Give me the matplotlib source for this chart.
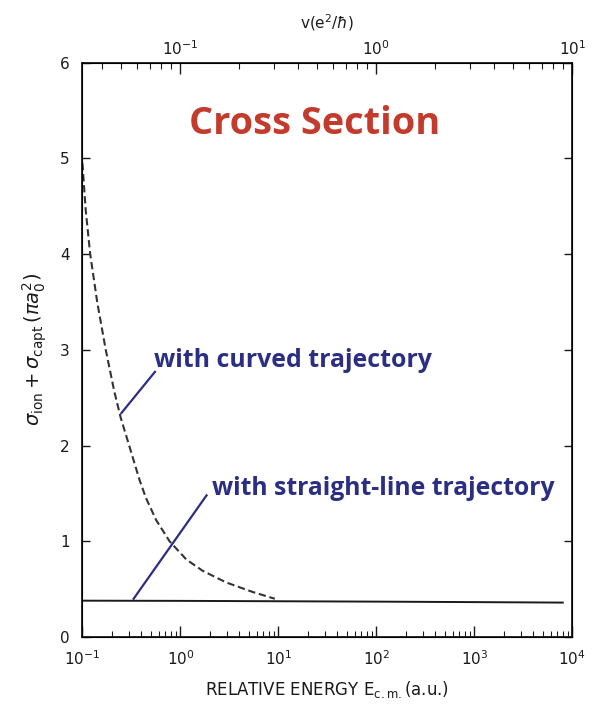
import numpy as np
import matplotlib
matplotlib.use("Agg")
import matplotlib.pyplot as plt
from matplotlib.ticker import LogLocator, NullFormatter, FixedLocator

# Cross section with curved (Coulomb) trajectories
energy_curved = [0.1, 0.108, 0.120, 0.142, 0.173, 0.211, 0.246, 0.29, 0.383, 0.444,
                 0.567, 0.776, 1.15, 1.70, 2.94, 5.5, 9.2]
sigma_curved = [4.95, 4.46, 4.0, 3.49, 3.0, 2.57, 2.29, 2.05, 1.64, 1.455,
                1.22, 1.0, 0.81, 0.69, 0.57, 0.47, 0.40]

# Cross section with straight-line trajectories
energy_straight = [0.1, 1.0, 10.0, 100.0, 1000.0, 8000.0]
sigma_straight = [0.38, 0.378, 0.374, 0.37, 0.365, 0.36]

x_ticks = [0.1, 1, 10, 100, 1000, 10000]
x_ticklabels = [r"$10^{-1}$", r"$10^{0}$", r"$10^{1}$", r"$10^{2}$", r"$10^{3}$", r"$10^{4}$"]
v_ticks = [0.1, 1, 10]
v_ticklabels = [r"$10^{-1}$", r"$10^{0}$", r"$10^{1}$"]
y_ticks = [0, 1, 2, 3, 4, 5, 6]

ink = "#1a1a1a"
red = "#c23b2c"
navy = "#2b2e83"

plt.rcParams["mathtext.fontset"] = "dejavusans"

fig = plt.figure(figsize=(5.93, 7.11), dpi=100)
ax = fig.add_axes([0.139, 0.104, 0.826, 0.808])

ax.plot(energy_straight, sigma_straight, color=ink, lw=1.4)
ax.plot(energy_curved, sigma_curved, color="#333333", lw=1.5, ls=(0, (3.5, 1.8)))

ax.set_xscale("log")
ax.set_xlim(0.1, 1e4)
ax.set_ylim(0, 6)
ax.xaxis.set_major_locator(FixedLocator(x_ticks))
ax.set_xticklabels(x_ticklabels)
ax.xaxis.set_minor_locator(LogLocator(base=10, subs=np.arange(2, 10), numticks=20))
ax.xaxis.set_minor_formatter(NullFormatter())
ax.set_yticks(y_ticks)
ax.tick_params(axis="x", which="major", direction="in", length=8, width=1.0,
               labelsize=11, pad=9, colors=ink)
ax.tick_params(axis="x", which="minor", direction="in", length=4, width=0.8, colors=ink)
ax.tick_params(axis="y", which="major", direction="in", length=6, width=1.0,
               labelsize=11, pad=9, right=True, colors=ink)
for s in ax.spines.values():
    s.set_linewidth(1.3)
    s.set_color(ink)

ax.set_xlabel(r"RELATIVE ENERGY E$_{\rm c.m.}$(a.u.)", fontsize=12, labelpad=8, color=ink)
ax.set_ylabel(r"$\sigma_{\rm ion} + \sigma_{\rm capt}\,(\pi a_0^2)$", fontsize=14,
              labelpad=8, color=ink)

# velocity scale on top: v = sqrt(E / 100)
top = ax.twiny()
top.set_xscale("log")
top.set_xlim(np.sqrt(0.1 / 100), np.sqrt(1e4 / 100))
top.xaxis.set_major_locator(FixedLocator(v_ticks))
top.set_xticklabels(v_ticklabels)
top.xaxis.set_minor_locator(LogLocator(base=10, subs=np.arange(2, 10), numticks=20))
top.xaxis.set_minor_formatter(NullFormatter())
top.tick_params(axis="x", which="major", direction="in", length=8, width=1.0,
                labelsize=11, pad=3, colors=ink)
top.tick_params(axis="x", which="minor", direction="in", length=4, width=0.8, colors=ink)
top.set_xlabel(r"v(e$^2$/$\hbar$)", fontsize=11, labelpad=8, color=ink)

ax.text(23.5, 5.36, "Cross Section", ha="center", va="center",
        fontsize=27.3, fontweight="bold", color=red, family="Open Sans")

ax.text(0.544, 2.89, "with curved trajectory", ha="left", va="center",
        fontsize=17.9, fontweight="bold", color=navy, family="Open Sans")
ax.plot([0.25, 0.55], [2.34, 2.77], color=navy, lw=1.6)

ax.text(2.08, 1.55, "with straight-line trajectory", ha="left", va="center",
        fontsize=17.8, fontweight="bold", color=navy, family="Open Sans")
ax.plot([0.333, 1.85], [0.40, 1.48], color=navy, lw=1.6)

fig.savefig("out.png", dpi=100)
